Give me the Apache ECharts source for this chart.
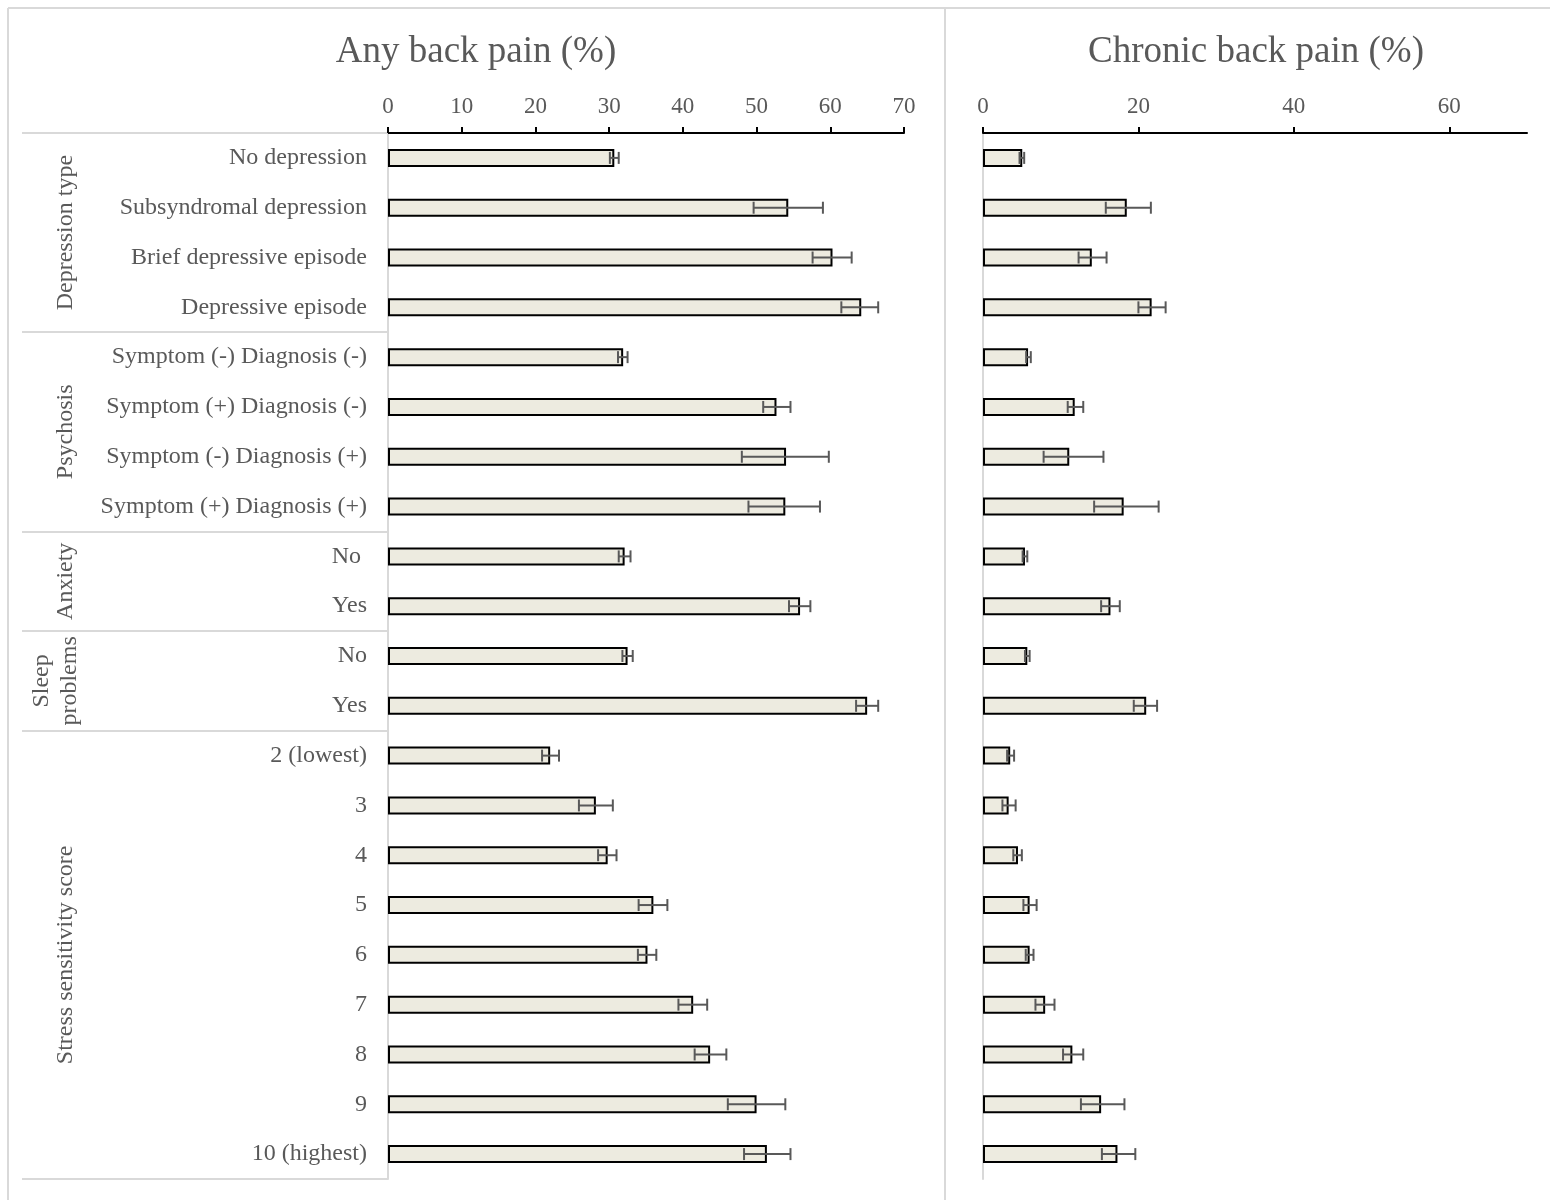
<!DOCTYPE html>
<html>
<head>
<meta charset="utf-8">
<script src="https://cdn.jsdelivr.net/npm/echarts@6/dist/echarts.min.js"></script>
<style>
  html, body { margin: 0; padding: 0; background: #fff; }
  #chart { width: 1550px; height: 1200px; }
</style>
</head>
<body>
<div id="chart"></div>
<script>
var categories = ['No depression', 'Subsyndromal depression', 'Brief depressive episode', 'Depressive episode',
  'Symptom (-) Diagnosis (-)', 'Symptom (+) Diagnosis (-)', 'Symptom (-) Diagnosis (+)', 'Symptom (+) Diagnosis (+)',
  'No ', 'Yes', 'No', 'Yes',
  '2 (lowest)', '3', '4', '5', '6', '7', '8', '9', '10 (highest)'];
var groupNames = ['Depression type', 'Psychosis', 'Anxiety', 'Sleep\nproblems', 'Stress sensitivity score'];
var groupSizes = [4, 4, 2, 2, 9];

var anyPain = [30.7, 54.3, 60.3, 64.2, 31.9, 52.7, 54.0, 53.9, 32.1, 55.9, 32.5, 65.0, 22.0, 28.2, 29.8, 36.0, 35.2, 41.4, 43.7, 50.0, 51.4];
var anyLow = [30.1, 49.6, 57.6, 61.5, 31.2, 50.9, 48.0, 48.9, 31.3, 54.4, 31.8, 63.5, 20.9, 25.9, 28.5, 34.0, 33.9, 39.4, 41.6, 46.1, 48.3];
var anyHigh = [31.3, 59.0, 62.9, 66.5, 32.5, 54.6, 59.8, 58.6, 32.9, 57.3, 33.2, 66.5, 23.2, 30.5, 31.0, 37.9, 36.4, 43.3, 45.9, 53.9, 54.6];

var chronic = [5.05, 18.5, 14.0, 21.7, 5.8, 11.8, 11.1, 18.1, 5.4, 16.4, 5.7, 21.0, 3.5, 3.3, 4.5, 6.0, 6.0, 8.0, 11.5, 15.2, 17.3];
var chronicLow = [4.7, 15.8, 12.3, 20.0, 5.55, 10.9, 7.8, 14.3, 5.1, 15.2, 5.4, 19.4, 3.1, 2.5, 3.9, 5.2, 5.5, 6.75, 10.3, 12.6, 15.3];
var chronicHigh = [5.3, 21.6, 15.9, 23.5, 6.15, 12.9, 15.5, 22.6, 5.7, 17.6, 6.0, 22.4, 4.0, 4.2, 5.0, 6.9, 6.5, 9.2, 12.9, 18.2, 19.6];

var anyTicks = [0, 10, 20, 30, 40, 50, 60, 70];
var chronicTicks = [0, 20, 40, 60];

var serif = '"Liberation Serif", "Times New Roman", serif';
var textColor = '#595959';
var lightLine = '#d9d9d9';

// first index of every group, for the separator lines
var groupStarts = [];
var acc = 0;
for (var g = 0; g < groupSizes.length; g++) {
  groupStarts.push(acc);
  acc += groupSizes[g];
}

function errData(low, high) {
  var out = [];
  for (var i = 0; i < low.length; i++) {
    out.push([i, low[i], high[i]]);
  }
  return out;
}

function renderErr(params, api) {
  var idx = api.value(0);
  var p1 = api.coord([api.value(1), idx]);
  var p2 = api.coord([api.value(2), idx]);
  var cap = 6;
  var st = { stroke: '#595959', lineWidth: 2 };
  return {
    type: 'group',
    children: [
      { type: 'line', shape: { x1: p1[0], y1: p1[1], x2: p2[0], y2: p2[1] }, style: st },
      { type: 'line', shape: { x1: p1[0], y1: p1[1] - cap, x2: p1[0], y2: p1[1] + cap }, style: st },
      { type: 'line', shape: { x1: p2[0], y1: p2[1] - cap, x2: p2[0], y2: p2[1] + cap }, style: st }
    ]
  };
}

var chart = echarts.init(document.getElementById('chart'));

var xAxisCommon = {
  type: 'value',
  position: 'top',
  min: 0,
  max: 70,
  splitLine: { show: false },
  axisLine: { show: true, lineStyle: { color: '#000', width: 2 } },
  axisTick: { show: true, length: 6, lineStyle: { color: '#000', width: 2 } },
  axisLabel: { color: textColor, fontFamily: serif, fontSize: 23, margin: 15 }
};

var option = {
  backgroundColor: '#fff',
  animation: false,
  grid: [
    { left: 388, top: 133, width: 516, height: 1046 },
    { left: 983, top: 133, width: 544, height: 1046 }
  ],
  xAxis: [
    echarts.util.merge({ gridIndex: 0, interval: 10,
      axisTick: { customValues: anyTicks }, axisLabel: { customValues: anyTicks } }, xAxisCommon, false),
    echarts.util.merge({ gridIndex: 1, interval: 20,
      axisTick: { customValues: chronicTicks }, axisLabel: { customValues: chronicTicks } }, xAxisCommon, false)
  ],
  yAxis: [
    {
      gridIndex: 0,
      type: 'category',
      inverse: true,
      data: categories,
      axisLine: { show: true, lineStyle: { color: lightLine, width: 2 } },
      axisTick: {
        show: true,
        length: 366,
        interval: function (index) { return groupStarts.indexOf(index) >= 0; },
        lineStyle: { color: lightLine, width: 2 }
      },
      axisLabel: { interval: 0, color: textColor, fontFamily: serif, fontSize: 24, margin: 21 },
      splitLine: { show: false }
    },
    {
      gridIndex: 1,
      type: 'category',
      inverse: true,
      data: categories,
      axisLine: { show: true, lineStyle: { color: lightLine, width: 2 } },
      axisTick: { show: false },
      axisLabel: { show: false },
      splitLine: { show: false }
    }
  ],
  series: [
    {
      type: 'bar', xAxisIndex: 0, yAxisIndex: 0, data: anyPain, barWidth: 18,
      itemStyle: { color: '#EDEBE0', borderColor: '#000', borderWidth: 2 }
    },
    {
      type: 'custom', xAxisIndex: 0, yAxisIndex: 0, data: errData(anyLow, anyHigh),
      encode: { x: [1, 2], y: 0 }, renderItem: renderErr, z: 5
    },
    {
      type: 'bar', xAxisIndex: 1, yAxisIndex: 1, data: chronic, barWidth: 18,
      itemStyle: { color: '#EDEBE0', borderColor: '#000', borderWidth: 2 }
    },
    {
      type: 'custom', xAxisIndex: 1, yAxisIndex: 1, data: errData(chronicLow, chronicHigh),
      encode: { x: [1, 2], y: 0 }, renderItem: renderErr, z: 5
    }
  ]
};
chart.setOption(option);

// frame, divider, panel titles and rotated group labels
function buildGraphics() {
  var items = [
    { type: 'line', shape: { x1: 8, y1: 8, x2: 1550, y2: 8 }, style: { stroke: lightLine, lineWidth: 2 } },
    { type: 'line', shape: { x1: 8, y1: 8, x2: 8, y2: 1200 }, style: { stroke: lightLine, lineWidth: 2 } },
    { type: 'line', shape: { x1: 945, y1: 8, x2: 945, y2: 1200 }, style: { stroke: lightLine, lineWidth: 2 } },
    { type: 'text', x: 476, y: 52, style: { text: 'Any back pain (%)', font: '37px ' + serif, fill: textColor, align: 'center', verticalAlign: 'middle' } },
    { type: 'text', x: 1256, y: 52, style: { text: 'Chronic back pain (%)', font: '37px ' + serif, fill: textColor, align: 'center', verticalAlign: 'middle' } }
  ];
  var first = 0;
  for (var k = 0; k < groupNames.length; k++) {
    var yFirst = chart.convertToPixel({ yAxisIndex: 0 }, first);
    var yLast = chart.convertToPixel({ yAxisIndex: 0 }, first + groupSizes[k] - 1);
    var multi = groupNames[k].indexOf('\n') >= 0;
    items.push({
      type: 'text',
      x: multi ? 56 : 66,
      y: (yFirst + yLast) / 2,
      rotation: Math.PI / 2,
      style: {
        text: groupNames[k], font: '24px ' + serif, fill: textColor,
        align: 'center', verticalAlign: 'middle', lineHeight: 28
      }
    });
    first += groupSizes[k];
  }
  return items;
}
chart.setOption({ graphic: buildGraphics() });
</script>
</body>
</html>
